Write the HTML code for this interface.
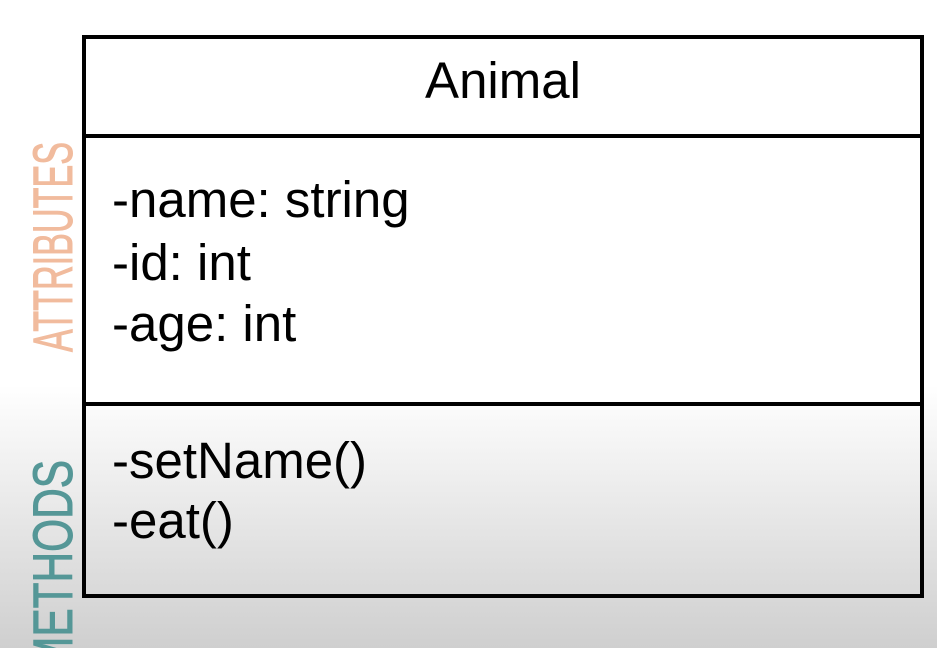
<!DOCTYPE html>
<html><head><meta charset="utf-8"><style>
html,body{margin:0;padding:0;width:937px;height:648px;overflow:hidden}
body{background:linear-gradient(to bottom,#fff 0,#fff 385px,#cfcfcf 648px)}
svg{display:block}
</style></head><body>
<svg width="937" height="648" xmlns="http://www.w3.org/2000/svg">
<rect x="84" y="37" width="838" height="98" fill="#fff"/>
<rect x="84" y="136" width="838" height="267" fill="#fff"/>
<rect x="84" y="37" width="838" height="559" fill="none" stroke="#000" stroke-width="4"/>
<line x1="84" y1="136" x2="922" y2="136" stroke="#000" stroke-width="4"/>
<line x1="84" y1="404" x2="922" y2="404" stroke="#000" stroke-width="4"/>
<g font-family="Liberation Sans, sans-serif" font-size="51" fill="#000">
<text x="503" y="98" text-anchor="middle">Animal</text>
<text x="112" y="217">-name: string</text>
<text x="112" y="280">-id: int</text>
<text x="112" y="341">-age: int</text>
<text x="112" y="478">-setName()</text>
<text x="112" y="538">-eat()</text>
</g>
<g font-family="Liberation Sans Narrow, Liberation Sans, sans-serif" font-size="56" stroke-width="1">
<text transform="translate(72,352) rotate(-90)" fill="#f1bb9d" stroke="#f1bb9d" textLength="210" lengthAdjust="spacingAndGlyphs">ATTRIBUTES</text>
<text transform="translate(72,672) rotate(-90)" fill="#559797" stroke="#559797" textLength="212" lengthAdjust="spacingAndGlyphs">METHODS</text>
</g>
</svg>
</body></html>
